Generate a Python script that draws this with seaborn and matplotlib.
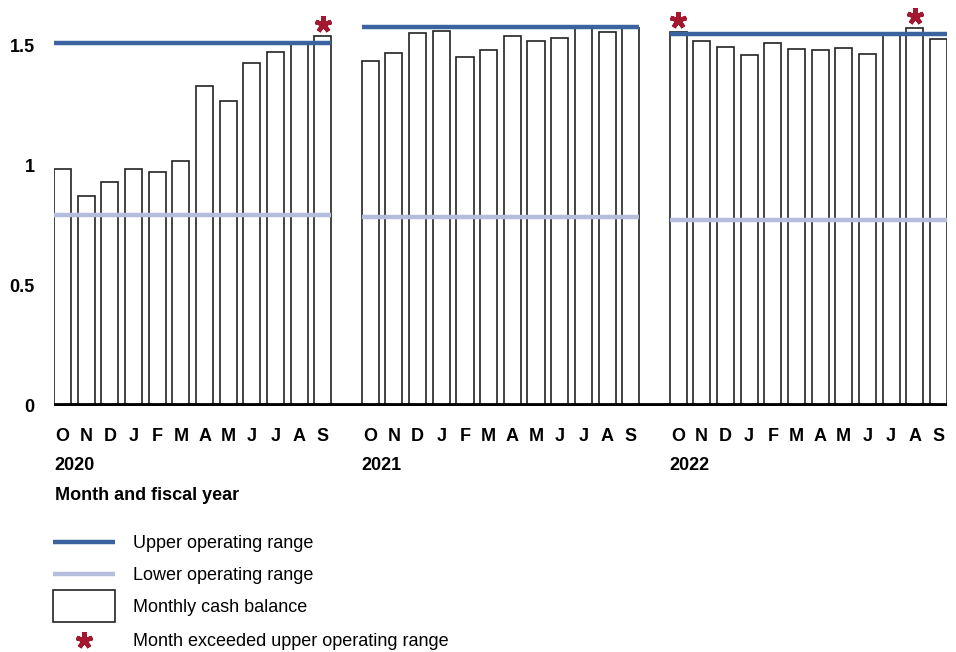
import matplotlib
matplotlib.use("Agg")
import matplotlib.pyplot as plt
from matplotlib.lines import Line2D
from matplotlib.patches import Rectangle
from matplotlib.transforms import blended_transform_factory, offset_copy
import seaborn as sns
import pandas as pd
import numpy as np

sns.set_theme(style="white")
plt.rcParams['font.family'] = ['Liberation Sans', 'DejaVu Sans']

# ---- data ----
fiscal_years = ["2020", "2021", "2022"]
months = ["O", "N", "D", "J", "F", "M", "A", "M", "J", "J", "A", "S"]
cash_2020 = [0.986, 0.874, 0.932, 0.984, 0.974, 1.018, 1.330, 1.269, 1.424, 1.471, 1.505, 1.538]
cash_2021 = [1.435, 1.466, 1.549, 1.560, 1.449, 1.481, 1.539, 1.518, 1.529, 1.572, 1.554, 1.572]
cash_2022 = [1.554, 1.516, 1.491, 1.460, 1.507, 1.485, 1.480, 1.489, 1.463, 1.545, 1.571, 1.527]
upper_range = [1.507, 1.574, 1.546]
lower_range = [0.794, 0.786, 0.773]
exceeded_idx = [(0, 11), (2, 0), (2, 10)]  # (year index, month index)

cash_all = [cash_2020, cash_2021, cash_2022]

rows = []
for yi, (fy, vals) in enumerate(zip(fiscal_years, cash_all)):
    for mi, (m, v) in enumerate(zip(months, vals)):
        rows.append({"year": fy, "month": m, "pos": yi * 13 + mi, "cash": v})
df = pd.DataFrame(rows)

W, H = 956, 652
fig = plt.figure(figsize=(W / 100, H / 100), dpi=100)
left, right, bottom, top = 54, 947, 406, 9
ax = fig.add_axes([left / W, 1 - bottom / H, (right - left) / W, (bottom - top) / H])

bw = 0.72
sns.barplot(data=df, x="pos", y="cash", native_scale=True, width=bw,
            color="white", saturation=1, edgecolor="#222222", linewidth=1.2,
            errorbar=None, ax=ax, zorder=2)

red = "#a3182e"
blue = "#3a63a0"
lav = "#b6bcdc"
for yi in range(3):
    x0 = yi * 13 - bw / 2
    x1 = yi * 13 + 11 + bw / 2
    ax.plot([x0, x1], [lower_range[yi]] * 2, color=lav, lw=3.2, zorder=3,
            solid_capstyle="butt")
    ax.plot([x0, x1], [upper_range[yi]] * 2, color=blue, lw=3.2, zorder=3,
            solid_capstyle="butt")

# asterisks, drawn ~12 px above the bar top
star = (5, 2, 0)
off = offset_copy(ax.transData, fig=fig, x=0, y=12, units="dots")
for yi, mi in exceeded_idx:
    v = cash_all[yi][mi]
    ax.plot([yi * 13 + mi], [v], marker=star, markersize=12, mew=3.2,
            color=red, transform=off, clip_on=False, zorder=5, linestyle="none")

ax.set_xlim(-bw / 2, 37 + bw / 2)
ax.set_ylim(0, 1.65)
ax.axhline(0, color="black", lw=4.2, zorder=4, solid_capstyle="butt")

ax.set_yticks([0, 0.5, 1, 1.5])
ax.set_yticklabels(["0", "0.5", "1", "1.5"])
ax.set_xticks(df["pos"].tolist())
ax.set_xticklabels(df["month"].tolist())
ax.tick_params(axis="y", length=0, pad=14, labelsize=13)
ax.tick_params(axis="x", length=0, pad=15.5, labelsize=13)
for lab in ax.get_xticklabels() + ax.get_yticklabels():
    lab.set_fontweight("bold")
    lab.set_color("black")
ax.set_xlabel("")
ax.set_ylabel("")
for s in ax.spines.values():
    s.set_visible(False)
ax.grid(False)

trans = blended_transform_factory(ax.transData, fig.transFigure)
for yi, fy in enumerate(fiscal_years):
    ax.text(yi * 13 - bw / 2, 1 - 466 / H, fy, transform=trans, ha="left", va="center",
            fontsize=13, fontweight="bold", color="black")
fig.text(55 / W, 1 - 496 / H, "Month and fiscal year", ha="left", va="center",
         fontsize=13, fontweight="bold", color="black")

def fx(px):
    return px / W

def fy_(py):
    return 1 - py / H

fig.add_artist(Line2D([fx(53), fx(115)], [fy_(542)] * 2, color=blue, lw=3.2,
                      solid_capstyle="butt"))
fig.add_artist(Line2D([fx(53), fx(115)], [fy_(574)] * 2, color=lav, lw=3.2,
                      solid_capstyle="butt"))
fig.add_artist(Rectangle((fx(53), fy_(622)), fx(115) - fx(53), fy_(590) - fy_(622),
                         facecolor="white", edgecolor="#222222", lw=1.2,
                         transform=fig.transFigure))
fig.add_artist(Line2D([fx(84)], [fy_(640)], marker=star, markersize=12, mew=3.2,
                      color=red, linestyle="none"))
for py, txt in [(542, "Upper operating range"), (574, "Lower operating range"),
                (606, "Monthly cash balance"), (640, "Month exceeded upper operating range")]:
    fig.text(fx(133), fy_(py + 2), txt, ha="left", va="center", fontsize=13, color="black")

fig.savefig("out.png", dpi=100)
